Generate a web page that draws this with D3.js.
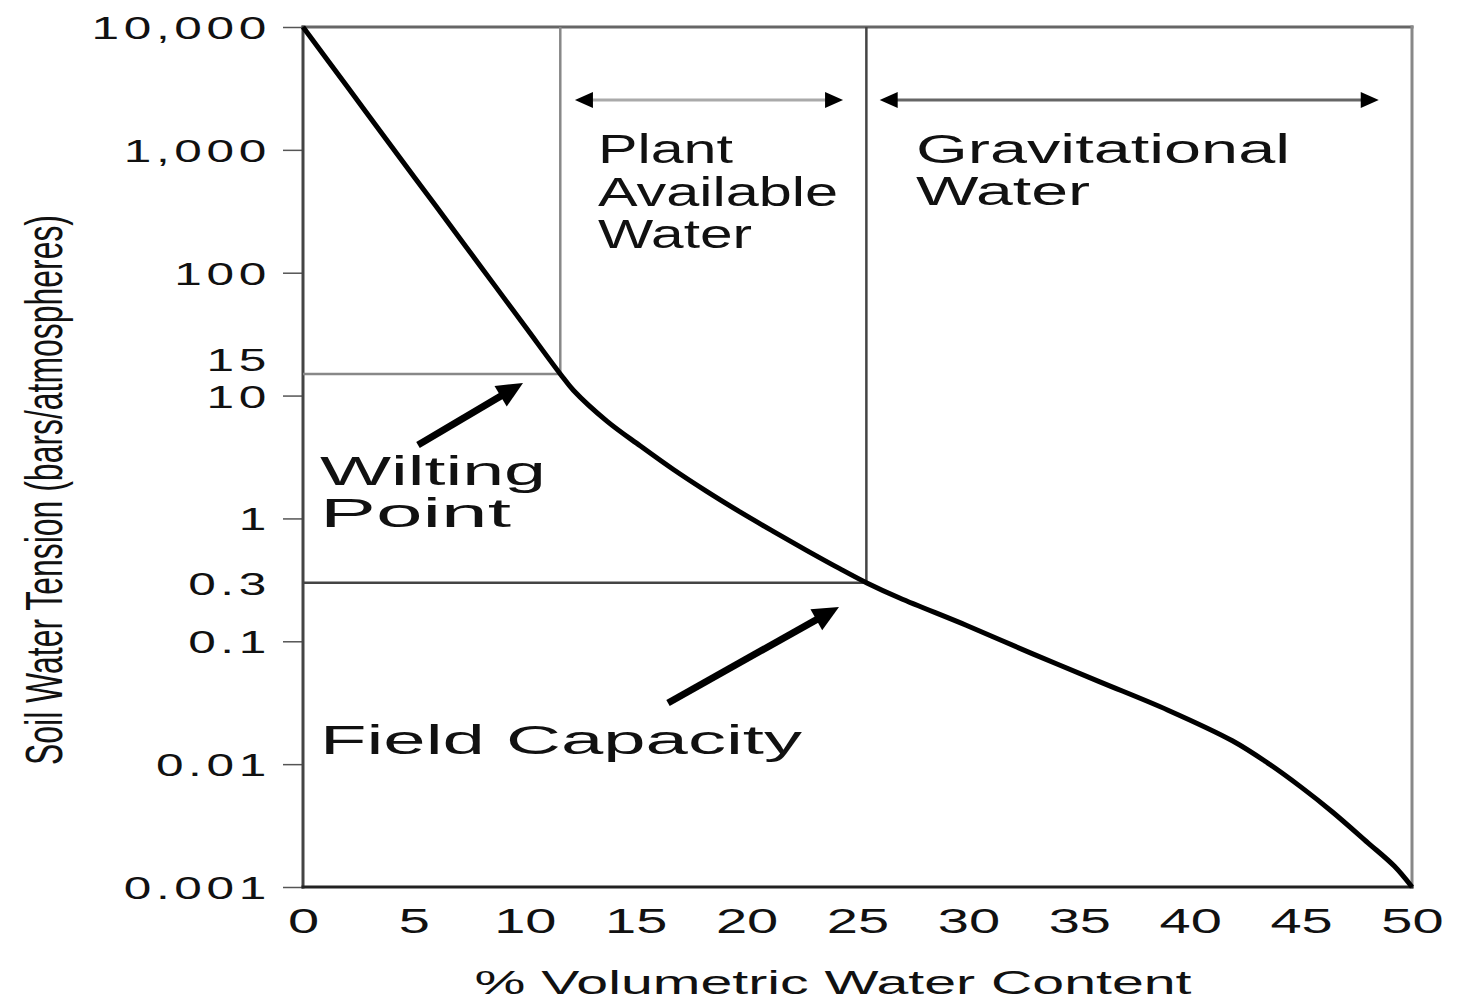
<!DOCTYPE html>
<html>
<head>
<meta charset="utf-8">
<script src="https://cdn.jsdelivr.net/npm/d3@7"></script>
<style>
body{margin:0;background:#fff}
svg{display:block}
text{font-family:"Liberation Sans",Arial,Helvetica,sans-serif;fill:#111}
</style>
</head>
<body>
<div class="chart"></div>
<script>
// soil water retention curve
let waterContent = [0, 2, 4, 6, 8, 10, 11.6, 12.2, 13.7, 15.2, 16.7, 18.2, 19.7, 21.2, 22.7, 24.2, 25.4, 26.9, 29.9, 32.9, 35.9, 39.0, 41.9, 43.5, 45.0, 46.4, 48.0, 49.2, 50]
let tension = [10000, 3260, 1060, 347, 113, 36.8, 15, 11, 6.2, 3.9, 2.5, 1.66, 1.13, 0.785, 0.55, 0.39, 0.3, 0.225, 0.135, 0.079, 0.047, 0.0275, 0.0155, 0.0102, 0.0065, 0.0041, 0.0023, 0.00148, 0.001]

let xTicks = [0, 5, 10, 15, 20, 25, 30, 35, 40, 45, 50]
let yTicks = [10000, 1000, 100, 15, 10, 1, 0.3, 0.1, 0.01, 0.001]
let yTickLabels = ['10,000', '1,000', '100', '15', '10', '1', '0.3', '0.1', '0.01', '0.001']

let wiltingPoint = [11.6, 15]
let fieldCapacity = [25.4, 0.3]
let plantRange = [12.26, 24.35]
let gravRange = [26.0, 48.5]
let rangeLevel = 2550

const dataset = waterContent.map((d, i) => ({x: d, y: tension[i]}))

const w = 1461
const h = 1002

const x = d3.scaleLinear().domain([0, 50]).range([303, 1412])
const y = d3.scaleLog().domain([0.001, 10000]).range([887, 27])

const svg = d3.select('.chart')
  .append('svg')
  .attr('width', w)
  .attr('height', h)

svg.append('rect').attr('width', w).attr('height', h).attr('fill', '#fff')

// arrow head as a filled triangle, tip at (tx,ty), pointing away from (fx,fy)
function head(tx, ty, fx, fy, len, hw){
  const a = Math.atan2(ty - fy, tx - fx)
  const bx = tx - len * Math.cos(a), by = ty - len * Math.sin(a)
  const px = -Math.sin(a) * hw, py = Math.cos(a) * hw
  return [[tx, ty], [bx + px, by + py], [bx - px, by - py]]
}

// axes
const yAxis = d3.axisLeft(y)
  .tickValues(yTicks)
  .tickFormat((d, i) => yTickLabels[i])
  .tickSize(20)

const gy = svg.append('g').attr('transform', 'translate(303,0)').call(yAxis)
gy.select('.domain').remove()
gy.selectAll('.tick line')
  .attr('stroke', '#555')
  .attr('stroke-width', 1.5)
  .filter(d => d == 15 || d == 0.3).remove()
gy.selectAll('.tick text')
  .attr('x', null)
  .attr('dy', '0.36em')
  .attr('text-anchor', 'end')
  .attr('font-size', 32)
  .attr('letter-spacing', 3)
  .attr('fill', '#222')
  .attr('transform', d => `translate(-32,${d == 15 ? -15 : 0}) scale(1.55,1)`)

const xAxis = d3.axisBottom(x).tickValues(xTicks).tickSize(0)
const gx = svg.append('g').attr('transform', 'translate(0,887)').call(xAxis)
gx.select('.domain').remove()
gx.selectAll('.tick text')
  .attr('y', null)
  .attr('dy', null)
  .attr('font-size', 35)
  .attr('fill', '#222')
  .attr('transform', 'translate(0,46) scale(1.6,1)')

// frame
const frame = [
  {x1: 0, y1: 10000, x2: 50, y2: 10000, c: '#666'},
  {x1: 50, y1: 10000, x2: 50, y2: 0.001, c: '#888'},
  {x1: 0, y1: 10000, x2: 0, y2: 0.001, c: '#444'},
  {x1: 0, y1: 0.001, x2: 50, y2: 0.001, c: '#222'}
]
svg.selectAll('line.frame')
  .data(frame)
  .enter()
  .append('line')
  .attr('class', 'frame')
  .attr('x1', d => x(d.x1)).attr('y1', d => y(d.y1))
  .attr('x2', d => x(d.x2)).attr('y2', d => y(d.y2))
  .attr('stroke', d => d.c)
  .attr('stroke-width', 3)
  .attr('stroke-linecap', 'square')

// reference lines at wilting point and field capacity
const refs = [
  {x1: 0, y1: wiltingPoint[1], x2: wiltingPoint[0], y2: wiltingPoint[1], c: '#888'},
  {x1: wiltingPoint[0], y1: wiltingPoint[1], x2: wiltingPoint[0], y2: 10000, c: '#888'},
  {x1: 0, y1: fieldCapacity[1], x2: fieldCapacity[0], y2: fieldCapacity[1], c: '#444'},
  {x1: fieldCapacity[0], y1: fieldCapacity[1], x2: fieldCapacity[0], y2: 10000, c: '#444'}
]
svg.selectAll('line.ref')
  .data(refs)
  .enter()
  .append('line')
  .attr('class', 'ref')
  .attr('x1', d => x(d.x1)).attr('y1', d => y(d.y1))
  .attr('x2', d => x(d.x2)).attr('y2', d => y(d.y2))
  .attr('stroke', d => d.c)
  .attr('stroke-width', 2.5)

// the curve
const line = d3.line()
  .x(d => x(d.x))
  .y(d => y(d.y))
  .curve(d3.curveCatmullRom.alpha(0.5))

svg.append('path')
  .datum(dataset)
  .attr('d', line)
  .attr('fill', 'none')
  .attr('stroke', '#000')
  .attr('stroke-width', 5)

// range arrows
const ranges = [
  {r: plantRange, c: '#aaa'},
  {r: gravRange, c: '#666'}
]
ranges.forEach(d => {
  const x0 = x(d.r[0]), x1 = x(d.r[1]), yy = y(rangeLevel)
  svg.append('line')
    .attr('x1', x0 + 10).attr('x2', x1 - 10)
    .attr('y1', yy).attr('y2', yy)
    .attr('stroke', d.c).attr('stroke-width', 3)
  svg.append('polygon').attr('points', head(x0, yy, x1, yy, 18, 8).join(' ')).attr('fill', '#000')
  svg.append('polygon').attr('points', head(x1, yy, x0, yy, 18, 8).join(' ')).attr('fill', '#000')
})

// pointer arrows
const pointers = [
  {from: [418, 445], to: [523, 383]},
  {from: [668, 703], to: [839, 607]}
]
pointers.forEach(p => {
  const a = Math.atan2(p.to[1] - p.from[1], p.to[0] - p.from[0])
  svg.append('line')
    .attr('x1', p.from[0]).attr('y1', p.from[1])
    .attr('x2', p.to[0] - 14 * Math.cos(a)).attr('y2', p.to[1] - 14 * Math.sin(a))
    .attr('stroke', '#000').attr('stroke-width', 7)
  svg.append('polygon')
    .attr('points', head(p.to[0], p.to[1], p.from[0], p.from[1], 26, 12).join(' '))
    .attr('fill', '#000')
})

// annotation labels
const labels = [
  {t: 'Plant', x: 598, y: 163, len: 135},
  {t: 'Available', x: 598, y: 206, len: 240},
  {t: 'Water', x: 598, y: 248, len: 154},
  {t: 'Gravitational', x: 916, y: 163, len: 374},
  {t: 'Water', x: 916, y: 205, len: 174},
  {t: 'Wilting', x: 320, y: 485, len: 226},
  {t: 'Point', x: 320, y: 527, len: 191},
  {t: 'Field Capacity', x: 320, y: 754, len: 482}
]
svg.selectAll('text.lab')
  .data(labels)
  .enter()
  .append('text')
  .attr('class', 'lab')
  .attr('x', d => d.x)
  .attr('y', d => d.y)
  .attr('font-size', 40)
  .attr('textLength', d => d.len)
  .attr('lengthAdjust', 'spacingAndGlyphs')
  .text(d => d.t)

// axis titles
svg.append('text')
  .attr('text-anchor', 'middle')
  .attr('font-size', 34)
  .attr('x', 833)
  .attr('y', 994)
  .attr('textLength', 717)
  .attr('lengthAdjust', 'spacingAndGlyphs')
  .attr('fill', '#222')
  .text('% Volumetric Water Content')

svg.append('text')
  .attr('text-anchor', 'middle')
  .attr('font-size', 31)
  .attr('transform', 'translate(62,490) rotate(-90) scale(1,1.7)')
  .attr('textLength', 550)
  .attr('lengthAdjust', 'spacingAndGlyphs')
  .attr('fill', '#222')
  .text('Soil Water Tension (bars/atmospheres)')
</script>
</body>
</html>
